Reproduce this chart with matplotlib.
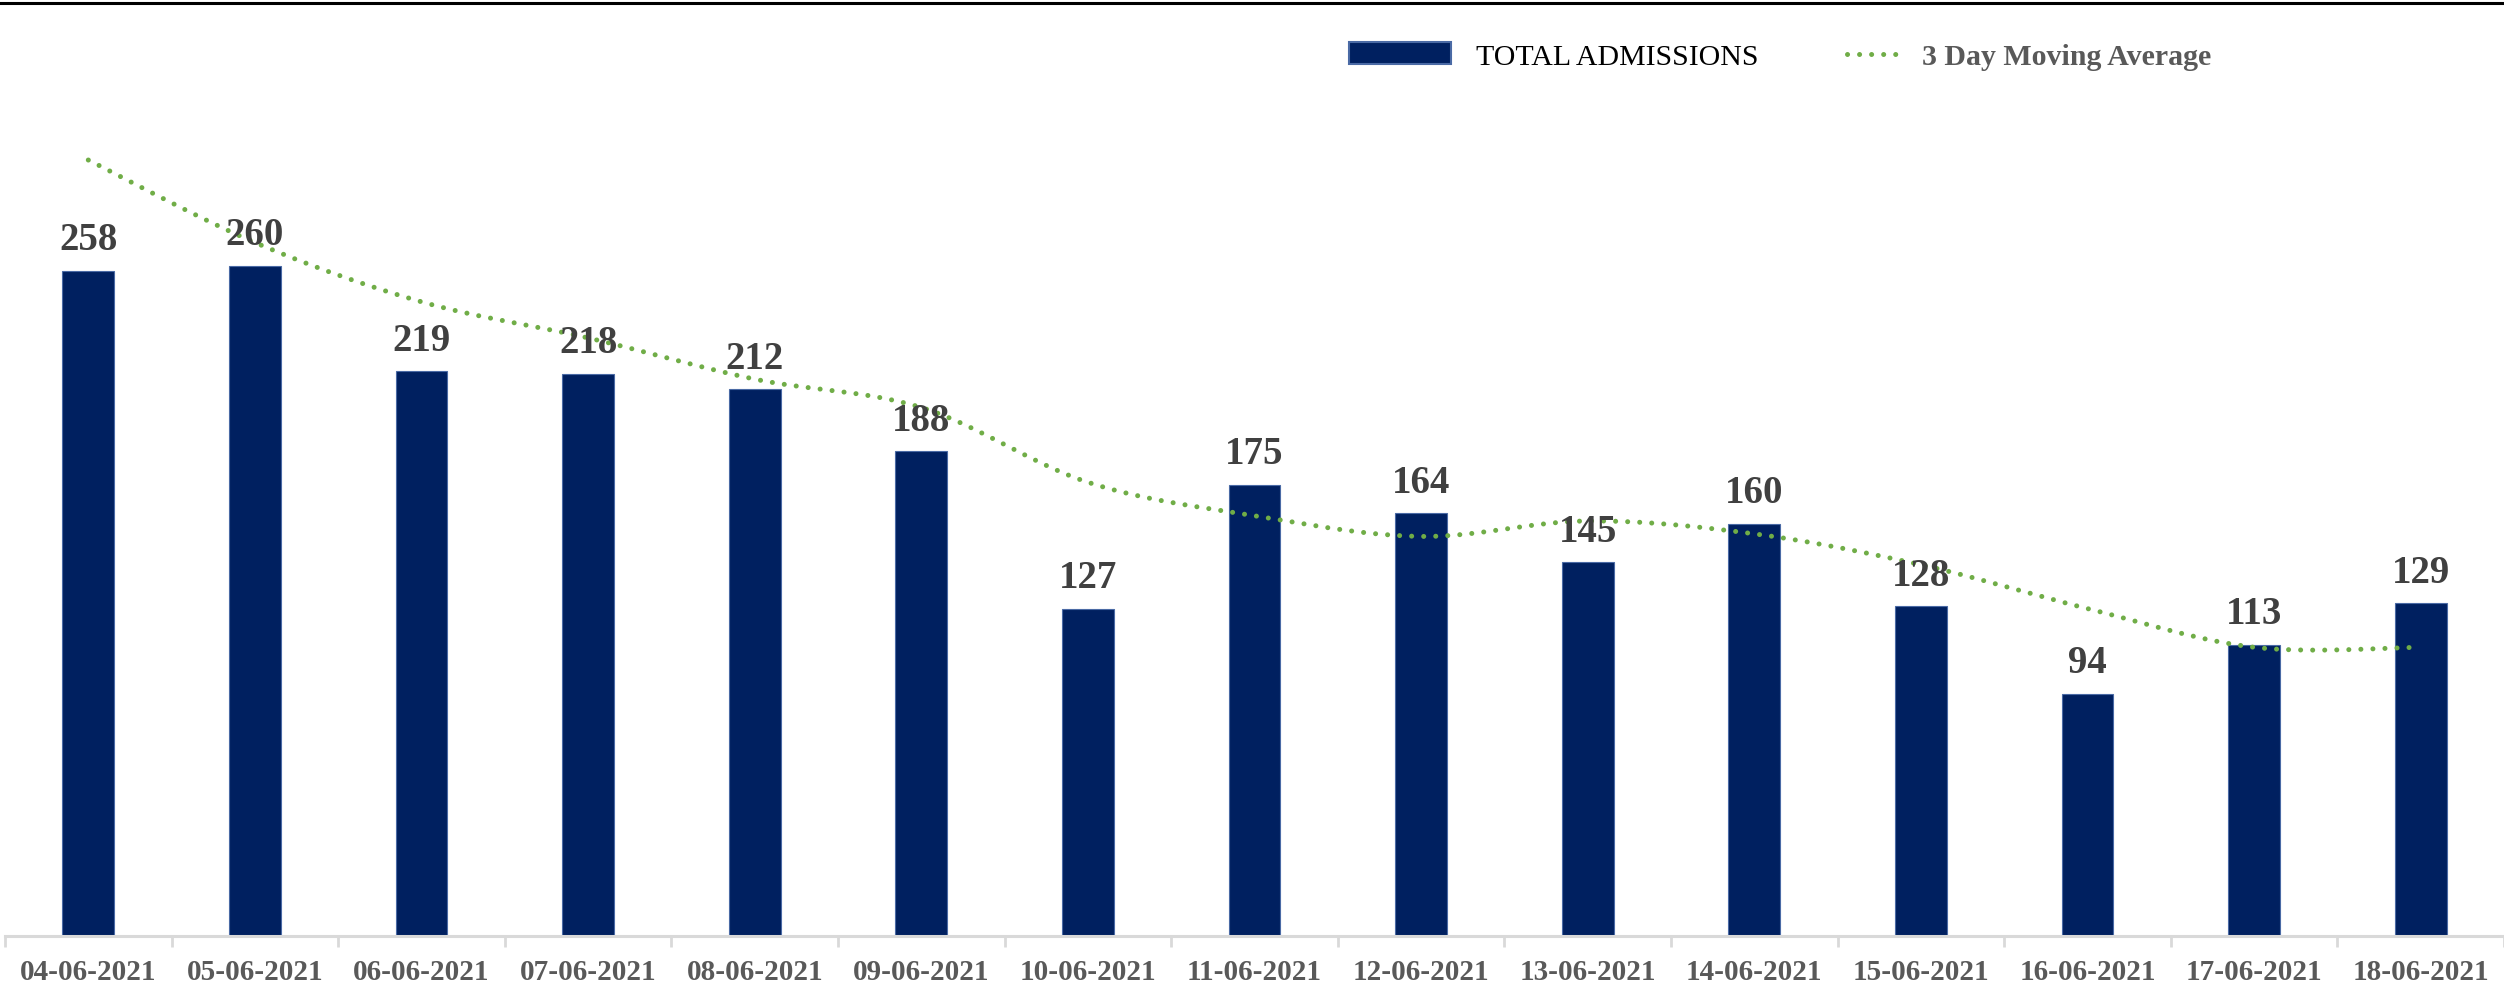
import numpy as np
import matplotlib
matplotlib.use("Agg")
import matplotlib.pyplot as plt
from matplotlib.lines import Line2D
from matplotlib.patches import Rectangle

dates = ["04-06-2021", "05-06-2021", "06-06-2021", "07-06-2021", "08-06-2021",
         "09-06-2021", "10-06-2021", "11-06-2021", "12-06-2021", "13-06-2021",
         "14-06-2021", "15-06-2021", "16-06-2021", "17-06-2021", "18-06-2021"]
admissions = [258, 260, 219, 218, 212, 188, 127, 175, 164, 145, 160, 128, 94, 113, 129]
moving_avg = [301, 269, 246, 232, 216, 205, 176, 163, 155, 161, 156, 144, 127, 112, 112]
series_names = ["TOTAL ADMISSIONS", "3 Day Moving Average"]

BAR_COLOR = "#002060"
BAR_EDGE = "#4a6aa5"
LINE_COLOR = "#70ad47"
LABEL_COLOR = "#404040"
TICK_COLOR = "#595959"
SERIF = ["Liberation Serif", "DejaVu Serif"]
DOTS = (0, (0.01, 2.4))

W, H = 2504, 995
fig = plt.figure(figsize=(W / 100, H / 100), dpi=100)
ax_left = 5 / W
ax_bottom = 1 - 937 / H
ymax = 340
top_px = 937 - ymax * 2.578
ax = fig.add_axes([ax_left, ax_bottom, 1 - ax_left, (937 - top_px) / H])

x = np.arange(len(dates))
ax.bar(x, admissions, width=0.31, color=BAR_COLOR, edgecolor=BAR_EDGE,
       linewidth=0.8, zorder=2)


def smooth(xs, ys, n=30):
    """Bezier smoothing through the points (like Excel's smoothed line)."""
    xs = np.asarray(xs, float); ys = np.asarray(ys, float)
    px = np.concatenate([[xs[0]], xs, [xs[-1]]])
    py = np.concatenate([[ys[0]], ys, [ys[-1]]])
    ox, oy = [], []
    t = np.linspace(0, 1, n)
    for i in range(1, len(px) - 2):
        p0, p1, p2, p3 = (np.array([px[j], py[j]]) for j in (i - 1, i, i + 1, i + 2))
        c1 = p1 + (p2 - p0) / 6
        c2 = p2 - (p3 - p1) / 6
        pts = ((1 - t) ** 3)[:, None] * p1 + (3 * (1 - t) ** 2 * t)[:, None] * c1 \
            + (3 * (1 - t) * t ** 2)[:, None] * c2 + (t ** 3)[:, None] * p2
        ox.extend(pts[:, 0]); oy.extend(pts[:, 1])
    return np.array(ox), np.array(oy)


sx, sy = smooth(x, moving_avg)
ax.plot(sx, sy, color=LINE_COLOR, linewidth=3.6, linestyle=DOTS,
        dash_capstyle="round", zorder=3)

for xi, v in zip(x, admissions):
    ax.annotate(str(v), (xi, v), xytext=(0, 9), textcoords="offset points",
                ha="center", va="bottom", fontsize=28, fontweight="bold",
                color=LABEL_COLOR, family=SERIF, zorder=4)

ax.set_xlim(-0.5, len(dates) - 0.5)
ax.set_ylim(0, ymax)
ax.set_yticks([])
for s in ["top", "right", "left"]:
    ax.spines[s].set_visible(False)
ax.spines["bottom"].set_color("#d9d9d9")
ax.spines["bottom"].set_linewidth(2.2)

ax.set_xticks(x)
ax.set_xticklabels(dates, fontsize=21, fontweight="bold", color=TICK_COLOR, family=SERIF)
ax.tick_params(axis="x", length=0, pad=16)
ax.set_xticks(np.arange(-0.5, len(dates), 1), minor=True)
ax.tick_params(axis="x", which="minor", length=8, width=2, color="#d9d9d9")

# top border line
fig.add_artist(Line2D([0, 1], [1 - 4 / H, 1 - 4 / H], transform=fig.transFigure,
                      color="black", linewidth=2.2))

# legend drawn manually (pixel positions converted to figure fractions)
def fx(px):
    return px / W

def fy(py):
    return 1 - py / H

fig.add_artist(Rectangle((fx(1349), fy(65)), fx(1451) - fx(1349), fy(43) - fy(65),
                         transform=fig.transFigure, facecolor=BAR_COLOR,
                         edgecolor=BAR_EDGE, linewidth=1.5))
fig.text(fx(1476), fy(65), series_names[0], family=SERIF, fontsize=21.5,
         color="black", ha="left", va="baseline")
fig.add_artist(Line2D([fx(1847), fx(1907)], [fy(55), fy(55)], transform=fig.transFigure,
                      color=LINE_COLOR, linewidth=3.6, linestyle=DOTS,
                      dash_capstyle="round"))
fig.text(fx(1922), fy(65), series_names[1], family=SERIF, fontsize=21.5,
         fontweight="bold", color=TICK_COLOR, ha="left", va="baseline")

fig.savefig("out.png", dpi=100)
